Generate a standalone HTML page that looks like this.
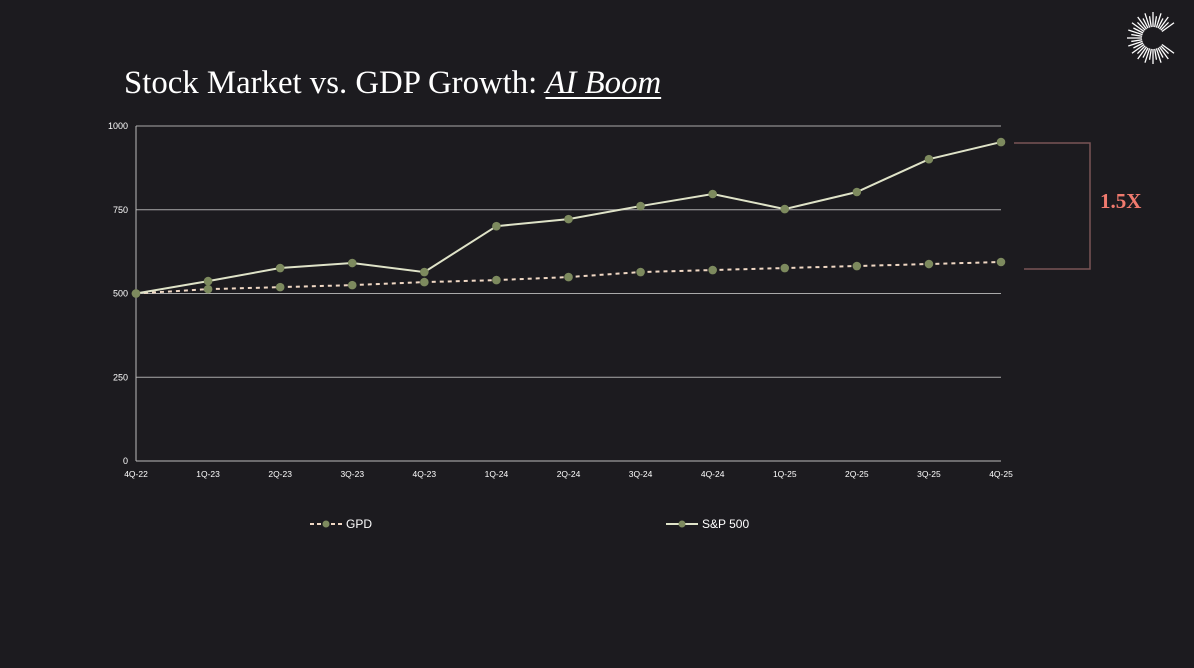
<!DOCTYPE html>
<html><head><meta charset="utf-8"><style>
html,body{margin:0;padding:0;background:#1c1b1f;}
body{width:1194px;height:668px;overflow:hidden;position:relative;font-family:"Liberation Sans",sans-serif;}
#title{position:absolute;left:124px;top:65px;font-family:"Liberation Serif",serif;font-size:32.8px;color:#fff;margin:0;font-weight:normal;}
#title i{text-decoration:underline;text-decoration-thickness:2px;text-underline-offset:4px;}
svg{position:absolute;left:0;top:0;}
</style></head><body>
<h1 id="title">Stock Market vs. GDP Growth: <i>AI Boom</i></h1>
<svg id="chart" width="1194" height="668"></svg>
<script>
const categories=["4Q-22","1Q-23","2Q-23","3Q-23","4Q-23","1Q-24","2Q-24","3Q-24","4Q-24","1Q-25","2Q-25","3Q-25","4Q-25"];
const sp500=[500,537,576,591,564,701,722,761,797,752,803,901,952];
const gdp=[500,513,519,525,534,540,549,564,570,576,582,588,594];
const yTicks=[0,250,500,750,1000];
const NS="http://www.w3.org/2000/svg";
const svg=document.getElementById('chart');
const x0=136,x1=1001,yTop=126,yBot=461;
const xs=i=>x0+(x1-x0)*i/(categories.length-1);
const ys=v=>yBot-(yBot-yTop)*v/1000;
function mk(t,a,p){const e=document.createElementNS(NS,t);for(const k in a)e.setAttribute(k,a[k]);(p||svg).appendChild(e);return e;}
yTicks.forEach(v=>{
 const l=mk('line',{x1:x0,x2:x1,y1:ys(v),y2:ys(v),stroke:v===0?'#bbb':'#aaa','stroke-width':1});
 
 
 const t=mk('text',{x:128,y:ys(v)+3,'text-anchor':'end','font-size':9,fill:'#fff'});t.textContent=v;
 
 
});
const ax=mk('line',{x1:x0,x2:x0,y1:yTop,y2:yBot,stroke:'#bbb'});


categories.forEach((c,i)=>{
 const t=mk('text',{x:xs(i),y:477,'text-anchor':'middle','font-size':8.5,fill:'#fff'});t.textContent=c;
 
 
});
function series(vals,name,dash,color){
 const p=mk('polyline',{points:vals.map((v,i)=>xs(i)+','+ys(v)).join(' '),fill:'none',stroke:color,'stroke-width':2});
 if(dash)p.setAttribute('stroke-dasharray',dash);
 
 
 vals.forEach((v,i)=>{const c=mk('circle',{cx:xs(i),cy:ys(v),r:4.3,fill:'#7d8a5e'});
 
 });
}
series(gdp,'gdp','4 4','#f0d8c4');
series(sp500,'sp500',null,'#dfe3c8');
const b=mk('polyline',{points:'1014,143 1090,143 1090,269 1024,269',fill:'none',stroke:'#7a5457','stroke-width':1.5});


const bt=mk('text',{x:1100,y:208,'font-family':'Liberation Serif, serif','font-size':21,'font-weight':'bold',fill:'#f07a6e'});bt.textContent='1.5X';


const lg1=mk('g',{});


mk('line',{x1:310,x2:342,y1:524,y2:524,stroke:'#f0d8c4','stroke-width':2,'stroke-dasharray':'4 3'},lg1);
mk('circle',{cx:326,cy:524,r:3.5,fill:'#7d8a5e'},lg1);
const l1=mk('text',{x:346,y:528,'font-size':12,fill:'#fff'},lg1);l1.textContent='GPD';
const lg2=mk('g',{});


mk('line',{x1:666,x2:698,y1:524,y2:524,stroke:'#dfe3c8','stroke-width':2},lg2);
mk('circle',{cx:682,cy:524,r:3.5,fill:'#7d8a5e'},lg2);
const l2=mk('text',{x:702,y:528,'font-size':12,fill:'#fff'},lg2);l2.textContent='S&P 500';
const lg=mk('g',{});


for(let a=0;a<360;a+=9){
 if(a>325||a<35)continue;
 const r=a*Math.PI/180;const cx=1153,cy=38;
 const r1=11,r2=(a%18===0)?26:22;
 mk('line',{x1:cx+Math.cos(r)*r1,y1:cy+Math.sin(r)*r1,x2:cx+Math.cos(r)*r2,y2:cy+Math.sin(r)*r2,stroke:'#fff','stroke-width':1.3},lg);
}
</script>
</body></html>
